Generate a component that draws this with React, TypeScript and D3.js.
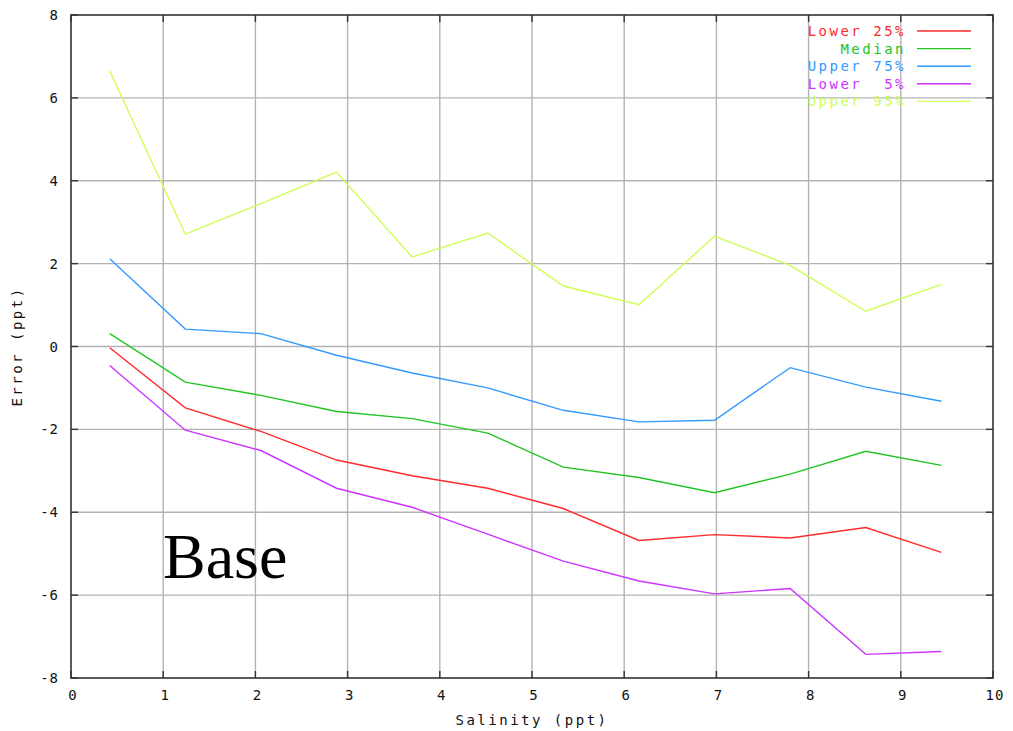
import React from "react";
import * as d3 from "d3";

const salinity = [0.42, 1.24, 2.06, 2.88, 3.7, 4.52, 5.34, 6.16, 6.98, 7.8, 8.62, 9.44];
const lower25 = [-0.03, -1.48, -2.05, -2.74, -3.12, -3.42, -3.91, -4.68, -4.54, -4.62, -4.37, -4.97];
const median = [0.31, -0.86, -1.18, -1.57, -1.74, -2.09, -2.91, -3.16, -3.53, -3.08, -2.53, -2.87];
const upper75 = [2.12, 0.42, 0.31, -0.21, -0.64, -1.0, -1.54, -1.82, -1.78, -0.51, -0.98, -1.32];
const lower5 = [-0.46, -2.02, -2.51, -3.42, -3.88, -4.53, -5.18, -5.66, -5.97, -5.84, -7.43, -7.36];
const upper95 = [6.65, 2.71, 3.45, 4.21, 2.16, 2.74, 1.46, 1.01, 2.66, 1.96, 0.85, 1.5];

const seriesNames = ["Lower 25%", "Median", "Upper 75%", "Lower  5%", "Upper 95%"];
const seriesColors = ["#ff2a2a", "#22c422", "#3399ff", "#cc33ff", "#ccff55"];
const seriesValues = [lower25, median, upper75, lower5, upper95];

const xTicks = [0, 1, 2, 3, 4, 5, 6, 7, 8, 9, 10];
const yTicks = [-8, -6, -4, -2, 0, 2, 4, 6, 8];

const W = 1013;
const H = 731;
const M = { left: 71, right: 993, top: 15, bottom: 678 };
const mono = "'DejaVu Sans Mono', 'Liberation Mono', monospace";

export default function App() {
  const x = d3.scaleLinear().domain([0, 10]).range([M.left, M.right]);
  const y = d3.scaleLinear().domain([-8, 8]).range([M.bottom, M.top]);
  const line = d3
    .line<number>()
    .x((_, i) => x(salinity[i]))
    .y((d) => y(d));

  const tickLen = 7;
  const textStyle = { fontFamily: mono, fontSize: 14, letterSpacing: 2.5, fill: "#111" } as const;
  const tickStyle = { fontFamily: mono, fontSize: 14, letterSpacing: 1, fill: "#111" } as const;

  return (
    <svg width={W} height={H} style={{ position: "absolute", left: 0, top: 0 }}>
      <rect x={0} y={0} width={W} height={H} fill="#fff" />
      {/* grid */}
      {xTicks.slice(1, -1).map((t) => (
        <line key={"gx" + t} x1={x(t)} x2={x(t)} y1={M.top} y2={M.bottom} stroke="#b4b4b4" strokeWidth={1.4} />
      ))}
      {yTicks.slice(1, -1).map((t) => (
        <line key={"gy" + t} x1={M.left} x2={M.right} y1={y(t)} y2={y(t)} stroke="#b4b4b4" strokeWidth={1.4} />
      ))}
      {/* ticks */}
      {xTicks.map((t) => (
        <g key={"tx" + t}>
          <line x1={x(t)} x2={x(t)} y1={M.bottom} y2={M.bottom - tickLen} stroke="#333" strokeWidth={1.4} />
          <line x1={x(t)} x2={x(t)} y1={M.top} y2={M.top + tickLen} stroke="#333" strokeWidth={1.4} />
          <text x={x(t) + 2} y={M.bottom + 22} textAnchor="middle" style={tickStyle}>
            {t}
          </text>
        </g>
      ))}
      {yTicks.map((t) => (
        <g key={"ty" + t}>
          <line x1={M.left} x2={M.left + tickLen} y1={y(t)} y2={y(t)} stroke="#333" strokeWidth={1.4} />
          <line x1={M.right} x2={M.right - tickLen} y1={y(t)} y2={y(t)} stroke="#333" strokeWidth={1.4} />
          <text x={M.left - 12} y={y(t) + 5} textAnchor="end" style={tickStyle}>
            {t}
          </text>
        </g>
      ))}
      {/* frame */}
      <rect x={M.left} y={M.top} width={M.right - M.left} height={M.bottom - M.top} fill="none" stroke="#333" strokeWidth={1.6} />
      {/* series */}
      {seriesValues.map((vals, i) => (
        <path key={"s" + i} d={line(vals) || ""} fill="none" stroke={seriesColors[i]} strokeWidth={1.4} />
      ))}
      {/* legend */}
      {seriesNames.map((n, i) => (
        <g key={"l" + i}>
          <text
            x={906}
            y={36 + i * 17.6}
            textAnchor="end"
            xmlSpace="preserve"
            style={{ ...textStyle, fill: seriesColors[i], whiteSpace: "pre" }}
          >
            {n}
          </text>
          <line x1={917} x2={971} y1={31 + i * 17.6} y2={31 + i * 17.6} stroke={seriesColors[i]} strokeWidth={1.4} />
        </g>
      ))}
      {/* axis labels */}
      <text x={532} y={725} textAnchor="middle" style={textStyle}>
        Salinity (ppt)
      </text>
      <text
        transform={`translate(22, ${(M.top + M.bottom) / 2}) rotate(-90)`}
        textAnchor="middle"
        style={textStyle}
      >
        Error (ppt)
      </text>
      {/* annotation */}
      <text x={163} y={578} style={{ fontFamily: "'Liberation Serif', 'Times New Roman', serif", fontSize: 64, fill: "#000" }}>
        Base
      </text>
    </svg>
  );
}
